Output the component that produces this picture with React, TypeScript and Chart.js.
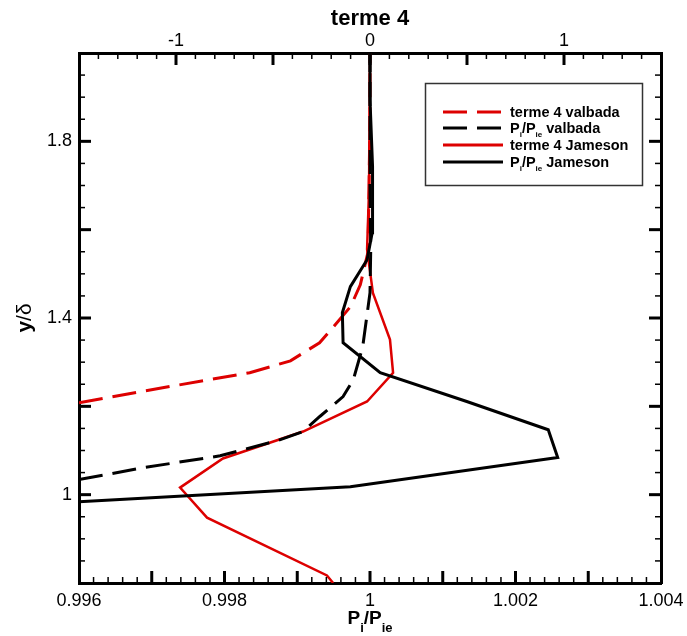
import React, { useEffect, useRef } from 'react';
import { Chart, registerables } from 'chart.js';

Chart.register(...registerables);

const FONT = '"Liberation Sans", Arial, Helvetica, sans-serif';
const RED = '#dd0000';
const BLACK = '#000000';

// axis ranges
const xMin = 0.996;
const xMax = 1.004;
const x2Min = -1.5;
const x2Max = 1.5;
const yMin = 0.8;
const yMax = 2.0;

// tick labels
const xTickValues = [0.996, 0.998, 1, 1.002, 1.004];
const xTickLabels = ['0.996', '0.998', '1', '1.002', '1.004'];
const x2TickValues = [-1, 0, 1];
const x2TickLabels = ['-1', '0', '1'];
const yTickValues = [1, 1.4, 1.8];
const yTickLabels = ['1', '1.4', '1.8'];

// series names
const seriesNames = ['terme 4 valbada', 'P_i/P_ie valbada', 'terme 4 Jameson', 'P_i/P_ie Jameson'];

// terme 4 valbada (top axis)
const t4ValbadaX = [-1.5, -1.03, -0.62, -0.41, -0.26, -0.2, -0.1, -0.05, -0.01, -0.005, 0, 0];
const t4ValbadaY = [1.208, 1.245, 1.276, 1.303, 1.344, 1.374, 1.426, 1.475, 1.55, 1.7, 1.85, 2.0];

// Pi/Pie valbada (bottom axis)
const pValbadaX = [0.996, 0.99688, 0.99794, 0.99872, 0.99908, 0.99931, 0.99963, 0.99977, 0.9999, 1.0, 1.00001, 1.0, 1.0];
const pValbadaY = [1.034, 1.061, 1.088, 1.122, 1.143, 1.177, 1.222, 1.26, 1.335, 1.457, 1.555, 1.7, 2.0];

// terme 4 Jameson (top axis)
const t4JamesonX = [-0.19, -0.222, -0.84, -0.979, -0.758, -0.345, -0.015, 0.119, 0.103, 0.015, -0.015, -0.005, 0];
const t4JamesonY = [0.8, 0.817, 0.948, 1.016, 1.082, 1.143, 1.211, 1.276, 1.351, 1.457, 1.555, 1.69, 2.0];

// Pi/Pie Jameson (bottom axis)
const pJamesonX = [0.996, 0.99973, 1.00258, 1.00245, 1.00133, 1.00014, 0.99963, 0.99962, 0.99973, 0.99996, 1.00003, 1.00004, 1.00003, 1.0, 1.0];
const pJamesonY = [0.984, 1.018, 1.084, 1.147, 1.211, 1.276, 1.344, 1.412, 1.471, 1.532, 1.593, 1.668, 1.743, 1.894, 2.0];

const zip = (xs: number[], ys: number[]) => xs.map((x, i) => ({ x, y: ys[i] }));

type Seg = { t: string; sub?: boolean; bold?: boolean };

function drawRich(
  ctx: CanvasRenderingContext2D,
  segs: Seg[],
  x: number,
  y: number,
  size: number,
  subSize: number,
  subOffset: number,
  defaultBold: boolean,
  align: 'left' | 'center'
) {
  const fontOf = (s: Seg) => {
    const b = s.bold === undefined ? defaultBold : s.bold;
    return `${b ? 'bold ' : ''}${s.sub ? subSize : size}px ${FONT}`;
  };
  const widths = segs.map((s) => {
    ctx.font = fontOf(s);
    return ctx.measureText(s.t).width;
  });
  const total = widths.reduce((a, b) => a + b, 0);
  let cx = align === 'center' ? x - total / 2 : x;
  ctx.textAlign = 'left';
  ctx.textBaseline = 'alphabetic';
  segs.forEach((s, i) => {
    ctx.font = fontOf(s);
    ctx.fillText(s.t, cx, s.sub ? y + subOffset : y);
    cx += widths[i];
  });
}

function parseLabel(name: string): Seg[] {
  if (name.startsWith('P_i/P_ie')) {
    return [
      { t: 'P' },
      { t: 'i', sub: true },
      { t: '/P' },
      { t: 'ie', sub: true },
      { t: name.slice('P_i/P_ie'.length) },
    ];
  }
  return [{ t: name }];
}

const tickMarks = {
  id: 'tickMarks',
  afterDatasetsDraw(chart: any) {
    const ctx: CanvasRenderingContext2D = chart.ctx;
    const { left, right, top, bottom } = chart.chartArea;
    const sx = chart.scales.x;
    const sx2 = chart.scales.x2;
    const sy = chart.scales.y;
    ctx.save();
    ctx.strokeStyle = '#000';
    const mk = (a: number, b: number, c: number, d: number, w: number) => {
      ctx.lineWidth = w;
      ctx.beginPath();
      ctx.moveTo(a, b);
      ctx.lineTo(c, d);
      ctx.stroke();
    };
    const MAJ = 12;
    const MIN = 6;
    // bottom axis: minor every 0.0002, major every 0.001
    for (let i = 1; i < 40; i++) {
      const px = sx.getPixelForValue(xMin + i * 0.0002);
      const major = i % 5 === 0;
      mk(px, bottom, px, bottom - (major ? MAJ : MIN), major ? 3 : 1.5);
    }
    // top axis: minor every 0.1, major every 0.5
    for (let i = 1; i < 30; i++) {
      const px = sx2.getPixelForValue(x2Min + i * 0.1);
      const major = i % 5 === 0;
      mk(px, top, px, top + (major ? MAJ : MIN), major ? 3 : 1.5);
    }
    // left & right: minor every 0.05, major every 0.2
    for (let i = 1; i < 24; i++) {
      const py = sy.getPixelForValue(yMin + i * 0.05);
      const major = i % 4 === 0;
      mk(left, py, left + (major ? MAJ : MIN), py, major ? 3 : 1.5);
      mk(right, py, right - (major ? MAJ : MIN), py, major ? 3 : 1.5);
    }
    ctx.restore();
  },
};

const annotations = {
  id: 'annotations',
  afterDraw(chart: any) {
    const ctx: CanvasRenderingContext2D = chart.ctx;
    const { left, right, top, bottom } = chart.chartArea;
    const cxm = (left + right) / 2;
    const cym = (top + bottom) / 2;
    ctx.save();
    ctx.fillStyle = '#000';
    // bottom title
    drawRich(
      ctx,
      [{ t: 'P' }, { t: 'i', sub: true }, { t: '/P' }, { t: 'ie', sub: true }],
      cxm,
      624,
      19,
      13,
      8,
      true,
      'center'
    );
    // y title rotated
    ctx.save();
    ctx.translate(31, cym);
    ctx.rotate(-Math.PI / 2);
    drawRich(ctx, [{ t: 'y', bold: true }, { t: '/δ', bold: false }], 0, 0, 21, 21, 0, true, 'center');
    ctx.restore();

    // legend
    const bx = 425;
    const by = 83;
    const bw = 217;
    const bh = 102;
    ctx.fillStyle = '#fff';
    ctx.fillRect(bx, by, bw, bh);
    ctx.strokeStyle = '#333';
    ctx.lineWidth = 1.5;
    ctx.strokeRect(bx + 0.5, by + 0.5, bw, bh);
    const rowY = [112, 128, 145, 162];
    chart.data.datasets.forEach((ds: any) => {
      const idx = ds.legendIndex;
      const y = rowY[idx];
      ctx.strokeStyle = ds.borderColor;
      ctx.lineWidth = 3;
      ctx.setLineDash(ds.borderDash || []);
      ctx.beginPath();
      ctx.moveTo(443, y);
      ctx.lineTo(503, y);
      ctx.stroke();
      ctx.setLineDash([]);
      ctx.fillStyle = '#000';
      drawRich(ctx, parseLabel(ds.label), 510, y + 5, 14.5, 8, 4, true, 'left');
    });
    ctx.restore();
  },
};

export default function App() {
  const ref = useRef<HTMLCanvasElement | null>(null);
  useEffect(() => {
    if (!ref.current) return;
    const chart = new Chart(ref.current, {
      type: 'scatter',
      data: {
        datasets: [
          {
            label: seriesNames[3],
            legendIndex: 3,
            data: zip(pJamesonX, pJamesonY),
            xAxisID: 'x',
            yAxisID: 'y',
            borderColor: BLACK,
            borderWidth: 3,
            showLine: true,
            pointRadius: 0,
            order: 0,
          } as any,
          {
            label: seriesNames[1],
            legendIndex: 1,
            data: zip(pValbadaX, pValbadaY),
            xAxisID: 'x',
            yAxisID: 'y',
            borderColor: BLACK,
            borderWidth: 3,
            borderDash: [24, 10],
            showLine: true,
            pointRadius: 0,
            order: 1,
          } as any,
          {
            label: seriesNames[2],
            legendIndex: 2,
            data: zip(t4JamesonX, t4JamesonY),
            xAxisID: 'x2',
            yAxisID: 'y',
            borderColor: RED,
            borderWidth: 2.5,
            showLine: true,
            pointRadius: 0,
            order: 2,
          } as any,
          {
            label: seriesNames[0],
            legendIndex: 0,
            data: zip(t4ValbadaX, t4ValbadaY),
            xAxisID: 'x2',
            yAxisID: 'y',
            borderColor: RED,
            borderWidth: 3,
            borderDash: [24, 10],
            showLine: true,
            pointRadius: 0,
            order: 3,
          } as any,
        ],
      },
      options: {
        responsive: false,
        animation: false,
        devicePixelRatio: 1,
        layout: { padding: 0 },
        plugins: {
          legend: { display: false },
          tooltip: { enabled: false },
          title: { display: false },
        },
        scales: {
          x: {
            type: 'linear',
            position: 'bottom',
            min: xMin,
            max: xMax,
            afterBuildTicks: (s: any) => {
              s.ticks = xTickValues.map((v) => ({ value: v }));
            },
            afterFit: (s: any) => {
              s.height = 53;
              s.paddingLeft = 0;
              s.paddingRight = 0;
            },
            ticks: {
              callback: (_v: any, i: number) => xTickLabels[i],
              font: { family: FONT, size: 18 },
              color: '#000',
              padding: 7,
              maxRotation: 0,
              autoSkip: false,
            },
            grid: { display: false, drawTicks: false },
            border: { display: true, color: '#000', width: 3 },
          },
          x2: {
            type: 'linear',
            position: 'top',
            min: x2Min,
            max: x2Max,
            afterBuildTicks: (s: any) => {
              s.ticks = x2TickValues.map((v) => ({ value: v }));
            },
            afterFit: (s: any) => {
              s.height = 53;
              s.paddingLeft = 0;
              s.paddingRight = 0;
            },
            ticks: {
              callback: (_v: any, i: number) => x2TickLabels[i],
              font: { family: FONT, size: 18 },
              color: '#000',
              padding: 1,
              maxRotation: 0,
              autoSkip: false,
            },
            title: {
              display: true,
              text: 'terme 4',
              font: { family: FONT, size: 22, weight: 'bold' },
              color: '#000',
              padding: { top: 6, bottom: 0 },
            },
            grid: { display: false, drawTicks: false },
            border: { display: true, color: '#000', width: 3 },
          },
          y: {
            type: 'linear',
            position: 'left',
            min: yMin,
            max: yMax,
            afterBuildTicks: (s: any) => {
              s.ticks = yTickValues.map((v) => ({ value: v }));
            },
            afterFit: (s: any) => {
              s.width = 79;
            },
            ticks: {
              callback: (_v: any, i: number) => yTickLabels[i],
              font: { family: FONT, size: 18 },
              color: '#000',
              padding: 7,
              autoSkip: false,
            },
            grid: { display: false, drawTicks: false },
            border: { display: true, color: '#000', width: 3 },
          },
          y2: {
            type: 'linear',
            position: 'right',
            min: yMin,
            max: yMax,
            afterFit: (s: any) => {
              s.width = 26;
            },
            ticks: { display: false },
            grid: { display: false, drawTicks: false },
            border: { display: true, color: '#000', width: 3 },
          },
        },
      } as any,
      plugins: [tickMarks, annotations],
    });
    return () => chart.destroy();
  }, []);

  return (
    <div style={{ position: 'fixed', left: 0, top: 0, width: 687, height: 636, background: '#fff' }}>
      <canvas ref={ref} width={687} height={636} style={{ display: 'block', width: 687, height: 636 }} />
    </div>
  );
}
